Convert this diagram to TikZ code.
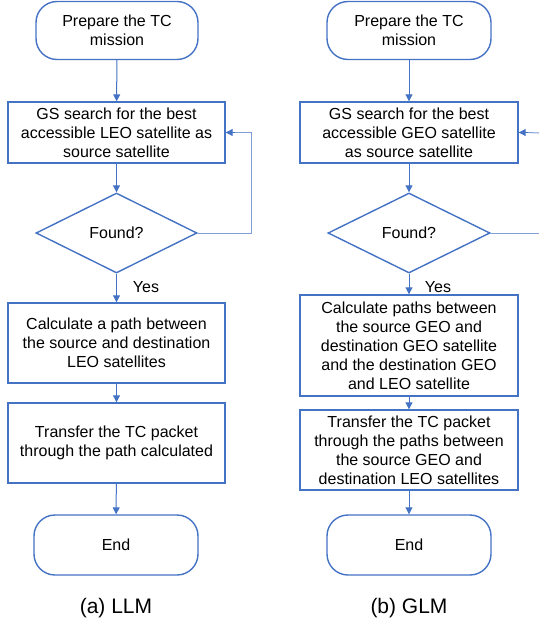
\documentclass[tikz,border=0pt]{standalone}
\usepackage{fontspec}
\setmainfont{Liberation Sans}
\usetikzlibrary{shapes.geometric,arrows.meta}
\definecolor{obl}{HTML}{4472C4}
\definecolor{lbl}{HTML}{7F9FD6}
\tikzset{
  base/.style={draw=obl, line width=1.4pt, align=center, inner sep=0pt,
    font=\fontsize{16pt}{19pt}\selectfont, text=black},
  term/.style={base, rectangle, rounded corners=21pt},
  proc/.style={base, rectangle},
  dec/.style={base, diamond, aspect=2},
  flow/.style={draw=obl, line width=1pt, -{Triangle[length=7pt,width=7pt]}},
  back/.style={draw=lbl, line width=1pt},
  captxt/.style={font=\fontsize{21pt}{25pt}\selectfont, text=black},
  lab/.style={font=\fontsize{16pt}{19pt}\selectfont, text=black}
}
\begin{document}
\begin{tikzpicture}[x=1pt,y=-1pt]
\useasboundingbox (0,0) rectangle (539,624);
% ---- left (a) LLM
\node[term, minimum width=162pt, minimum height=58pt] (ls) at (117,30.5) {Prepare the TC\\mission};
\node[proc, minimum width=217pt, minimum height=61pt] (lg) at (116.5,132.5) {GS search for the best\\accessible LEO satellite as\\source satellite};
\node[dec, minimum width=161pt, minimum height=80pt] (ld) at (116.5,233) {Found?};
\node[proc, minimum width=217pt, minimum height=80pt] (lc) at (116.5,343) {Calculate a path between\\the source and destination\\LEO satellites};
\node[proc, minimum width=217pt, minimum height=80pt] (lt) at (116.5,443) {Transfer the TC packet\\through the path calculated};
\node[term, minimum width=164pt, minimum height=60pt] (le) at (116,545) {End};
\node[captxt] (la) at (116,608) {(a) LLM};
\node[lab] (ly) at (146,287) {Yes};
\coordinate (lr) at (251,233);
\draw[flow] (ls) -- (lg);
\draw[flow] (lg) -- (ld);
\draw[flow] (ld) -- (lc);
\draw[flow] (lc) -- (lt);
\draw[flow] (lt) -- (le);
\draw[back] (ld.east) -- (lr) |- (lg.east);
\draw[flow] ([xshift=9pt]lg.east) -- (lg.east);
% ---- right (b) GLM
\node[term, minimum width=164pt, minimum height=58pt] (rs) at (409,30.5) {Prepare the TC\\mission};
\node[proc, minimum width=218pt, minimum height=61pt] (rg) at (409,132.5) {GS search for the best\\accessible GEO satellite\\as source satellite};
\node[dec, minimum width=162pt, minimum height=80pt] (rd) at (409,233) {Found?};
\node[proc, minimum width=218pt, minimum height=101pt] (rc) at (409,345.5) {Calculate paths between\\the source GEO and\\destination GEO satellite\\and the destination GEO\\and LEO satellite};
\node[proc, minimum width=218pt, minimum height=80pt] (rt) at (409,450) {Transfer the TC packet\\through the paths between\\the source GEO and\\destination LEO satellites};
\node[term, minimum width=164pt, minimum height=60pt] (re) at (409,545) {End};
\node[captxt] (ra) at (409,608) {(b) GLM};
\node[lab] (ry) at (438,287) {Yes};
\coordinate (rr) at (539,233);
\coordinate (rin) at (539,133);
\draw[flow] (rs) -- (rg);
\draw[flow] (rg) -- (rd);
\draw[flow] (rd) -- (rc);
\draw[flow] (rc) -- (rt);
\draw[flow] (rt) -- (re);
\draw[back] (rd.east) -- (rr);
\draw[back] (rin) -- ([xshift=9pt]rg.east);
\draw[flow] ([xshift=9pt]rg.east) -- (rg.east);
\end{tikzpicture}
\end{document}
